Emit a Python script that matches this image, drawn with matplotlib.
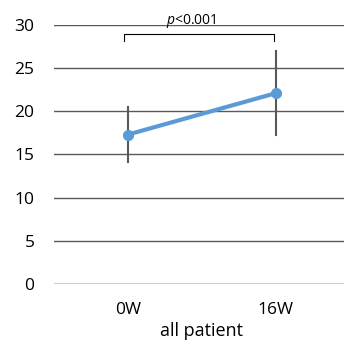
import matplotlib
matplotlib.use("Agg")
import matplotlib.pyplot as plt

# data
weeks = ["0W", "16W"]
means = [17.3, 22.1]
err_low = [14.1, 17.2]
err_high = [20.5, 27.0]
y_ticks = [0, 5, 10, 15, 20, 25, 30]
p_label = "<0.001"

plt.rcParams['font.family'] = ['Open Sans', 'DejaVu Sans']
plt.rcParams['mathtext.fontset'] = 'custom'
plt.rcParams['mathtext.it'] = 'Open Sans:italic'
plt.rcParams['mathtext.rm'] = 'Open Sans'

fig = plt.figure(figsize=(3.44, 3.42), dpi=100)
ax = fig.add_axes([0.157, 0.170, 0.86, 0.757])

x = [0, 1]
# y gridlines
for t in y_ticks:
    ax.axhline(t, color="#000000" if t == 0 else "#595959", lw=1.0, zorder=1)

# error bars
for xi, lo, hi in zip(x, err_low, err_high):
    ax.plot([xi, xi], [lo, hi], color="#595959", lw=1.5, zorder=2)

ax.plot(x, means, color="#5B9BD5", lw=3, marker="o", ms=7, zorder=3)

ax.set_xlim(-0.5, 1.5)
ax.set_ylim(0, 30)
ax.set_yticks(y_ticks)
ax.set_xticks(x)
ax.set_xticklabels(weeks)
ax.tick_params(axis="y", length=0, pad=14, labelsize=12.5)
ax.tick_params(axis="x", length=0, pad=13, labelsize=12.5)
ax.set_xlabel("all patient", fontsize=13, labelpad=3)
for s in ax.spines.values():
    s.set_visible(False)

# significance bracket
bx0, bx1 = -0.03, 0.99
ax.plot([bx0, bx0, bx1, bx1], [28.1, 29.0, 29.0, 28.1], color="black", lw=0.8, clip_on=False, zorder=4)
ax.text((bx0 + bx1) / 2 - 0.05, 29.4, "$\\it{p}$" + p_label, ha="center", va="bottom", fontsize=10, clip_on=False)

fig.savefig("out.png", dpi=100)
